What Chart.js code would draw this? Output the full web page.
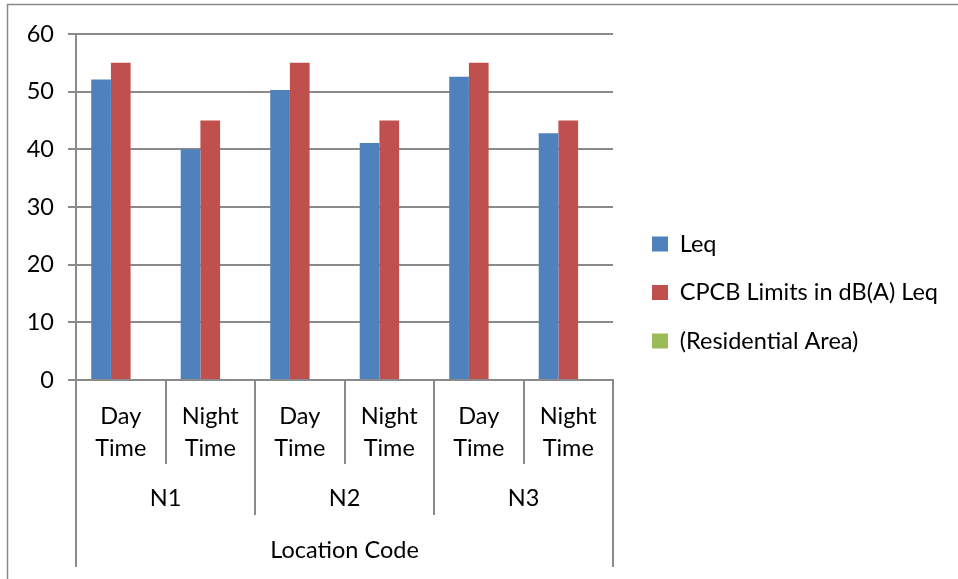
<!DOCTYPE html>
<html>
<head>
<meta charset="utf-8">
<script src="https://cdn.jsdelivr.net/npm/chart.js@4.4.1/dist/chart.umd.min.js"></script>
<style>
  html, body { margin: 0; padding: 0; background: #fff; }
  #wrap { width: 958px; height: 579px; position: relative; }
</style>
</head>
<body>
<div id="wrap"><canvas id="noiseChart" width="958" height="579"></canvas></div>
<script>
// data
const categories = [["Day", "Time"], ["Night", "Time"], ["Day", "Time"], ["Night", "Time"], ["Day", "Time"], ["Night", "Time"]];
const groups = ["N1", "N2", "N3"];
const axisTitle = "Location Code";
const leqValues = [52.1, 40.0, 50.3, 41.1, 52.6, 42.8];
const limitValues = [55, 45, 55, 45, 55, 45];
const residentialValues = [null, null, null, null, null, null];
const yTicks = [0, 10, 20, 30, 40, 50, 60];

const lineColor = "#8a8a8a";
const fontFamily = "Lato, 'Open Sans', sans-serif";
const fontSize = 23.5;

// where the legend sits in the reference (first box left / first row centre)
const legendBoxX = 652;
const legendFirstY = 244;

// frame + grouped category axis under the x labels, legend placement
const groupAxis = {
  id: "groupAxis",
  afterLayout(chart) {
    const lg = chart.legend;
    if (!lg) return;
    const pad = lg.options.labels.padding;
    const dx = legendBoxX - (lg.left + pad);
    const colH = lg.columnSizes[0].height;
    const startY = (lg.top + pad + lg.bottom - colH) / 2;
    const dy = legendFirstY - (startY + fontSize / 2);
    lg.left += dx;
    lg.right = chart.width;
    lg.width = lg.right - lg.left;
    lg.top += dy; lg.bottom += dy;
  },
  afterDraw(chart) {
    const ctx = chart.ctx;
    const xs = chart.scales.x;
    const n = categories.length;
    const w = (xs.right - xs.left) / n;
    const per = n / groups.length;
    const row1Bottom = xs.bottom;
    const row2Bottom = xs.bottom + 51;
    const outerBottom = row2Bottom + 52;

    ctx.save();
    ctx.strokeStyle = lineColor;
    ctx.lineWidth = 2;
    ctx.beginPath();
    for (let i = 0; i <= n; i++) {
      const x = Math.round(xs.left + i * w);
      let bottom = row1Bottom;
      if (i % per === 0) bottom = row2Bottom;
      if (i === 0 || i === n) bottom = outerBottom;
      ctx.moveTo(x, xs.top);
      ctx.lineTo(x, bottom);
    }
    ctx.stroke();

    ctx.fillStyle = "#000";
    ctx.font = fontSize + "px " + fontFamily;
    ctx.textAlign = "center";
    ctx.textBaseline = "middle";
    groups.forEach((g, gi) => {
      const x = xs.left + (gi + 0.5) * per * w;
      ctx.fillText(g, x, row1Bottom + 34);
    });
    ctx.fillText(axisTitle, (xs.left + xs.right) / 2, row2Bottom + 35);

    // outer frame of the chart object
    ctx.lineWidth = 1.5;
    ctx.beginPath();
    ctx.moveTo(7.5, chart.height);
    ctx.lineTo(7.5, 4.5);
    ctx.lineTo(chart.width, 4.5);
    ctx.stroke();
    ctx.restore();
  }
};

new Chart(document.getElementById("noiseChart"), {
  type: "bar",
  data: {
    labels: categories,
    datasets: [
      { label: "Leq", data: leqValues, backgroundColor: "#4f81bd" },
      { label: "CPCB Limits in dB(A) Leq", data: limitValues, backgroundColor: "#c0504d" },
      { label: "(Residential Area)", data: residentialValues, backgroundColor: "#9bbb59" },
    ],
  },
  options: {
    responsive: false,
    animation: false,
    layout: { padding: { top: 34, right: 95, bottom: 115, left: 0 } },
    datasets: { bar: { categoryPercentage: 0.66, barPercentage: 1 } },
    plugins: {
      legend: {
        position: "right",
        maxWidth: 250,
        labels: {
          boxWidth: 16,
          boxHeight: 15,
          padding: 25,
          color: "#000",
          font: { family: fontFamily, size: fontSize },
        },
      },
      tooltip: { enabled: false },
    },
    scales: {
      x: {
        afterFit(scale) { scale.height = 84; },
        grid: { display: false, drawTicks: false },
        border: { display: true, color: lineColor, width: 2 },
        ticks: {
          color: "#000",
          padding: 20,
          maxRotation: 0,
          autoSkip: false,
          font: { family: fontFamily, size: fontSize, lineHeight: 1.36 },
        },
      },
      y: {
        min: 0,
        max: 60,
        afterFit(scale) { scale.width = 76; },
        afterBuildTicks(scale) { scale.ticks = yTicks.map((v) => ({ value: v })); },
        grid: { color: lineColor, lineWidth: 2, tickLength: 8 },
        border: { display: true, color: lineColor, width: 2 },
        ticks: {
          color: "#000",
          padding: 14,
          font: { family: fontFamily, size: fontSize },
        },
      },
    },
  },
  plugins: [groupAxis],
});
</script>
</body>
</html>
